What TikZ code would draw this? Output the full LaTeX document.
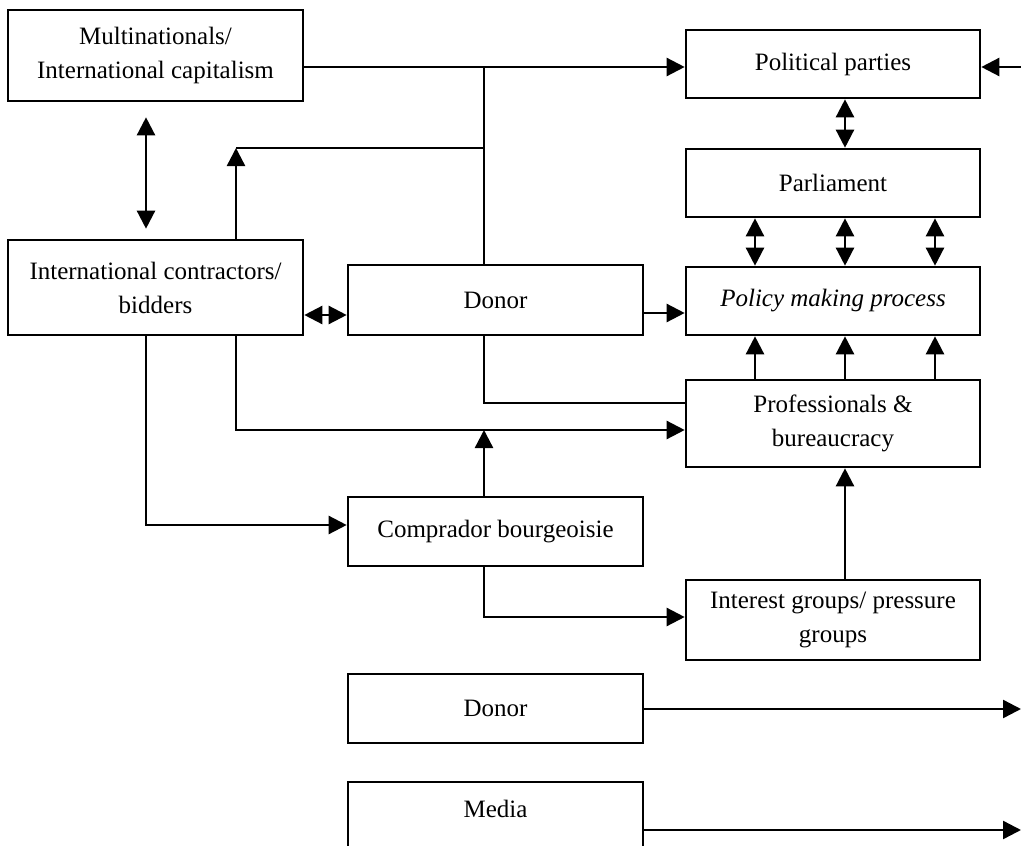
\documentclass[tikz,border=0pt]{standalone}
\usepackage{fontspec}
\setmainfont{Liberation Serif}
\usetikzlibrary{arrows.meta}
\begin{document}
\begin{tikzpicture}[x=1pt,y=-1pt,
  box/.style={draw, line width=2.6pt, minimum width=295pt, inner sep=0pt, align=center,
    font=\fontsize{25}{34}\selectfont},
  conn/.style={line width=2.4pt},
  arr/.style={conn, -{Triangle[length=18pt,width=18pt]}},
  darr/.style={conn, {Triangle[length=18pt,width=18pt]}-{Triangle[length=18pt,width=18pt]}}]
\useasboundingbox (0,0) rectangle (1021,846);
\clip (0,0) rectangle (1021,846);
% boxes
\node[box, minimum height=91pt] (multi) at (155.5,55.5) {Multinationals/\\International capitalism};
\node[box, minimum height=95pt] (intl) at (155.5,287.5) {International contractors/\\bidders};
\node[box, minimum height=68pt, minimum width=294pt] (pp) at (833,64) {Political parties};
\node[box, minimum height=68pt, minimum width=294pt] (parl) at (833,183) {Parliament};
\node[box, minimum height=68pt, minimum width=294pt, font=\fontsize{25}{34}\selectfont\itshape] (policy) at (833,301) {Policy making process};
\node[box, minimum height=87pt, minimum width=294pt] (prof) at (833,423.5) {Professionals \&\\bureaucracy};
\node[box, minimum height=80pt, minimum width=294pt] (interest) at (833,620) {Interest groups/ pressure\\groups};
\node[box, minimum height=70pt] (donor1) at (495.5,300) {Donor};
\node[box, minimum height=69pt] (compr) at (495.5,531.5) {Comprador bourgeoisie};
\node[box, minimum height=69pt] (donor2) at (495.5,708.5) {Donor};
\node[box, minimum height=76pt, text depth=22pt] (media) at (495.5,820) {Media};
% coordinates
\coordinate (jtop) at (484,67);
\coordinate (ppin) at (1021,67);
\coordinate (jmid) at (484,148);
\coordinate (jcorner) at (236,148);
\coordinate (dout) at (1021,709);
\coordinate (mout) at (1021,830);
% connectors
\draw[arr] (multi.east |- jtop) -- (pp.west |- jtop);
\draw[arr] (ppin) -- (pp.east |- ppin);
\draw[conn] (jtop) -- (donor1.north -| jtop);
\draw[conn] (jmid) -- (jcorner);
\draw[arr] (intl.north -| jcorner) -- (jcorner);
\draw[darr, shorten <=15pt, shorten >=10pt] (multi.south -| 146,0) -- (intl.north -| 146,0);
\draw[darr] (intl.east |- 0,315) -- (donor1.west |- 0,315);
\draw[arr] (donor1.east |- 0,313) -- (policy.west |- 0,313);
\draw[darr] (pp.south -| 845,0) -- (parl.north -| 845,0);
\foreach \xx in {755,845,935}{
  \draw[darr] (parl.south -| \xx,0) -- (policy.north -| \xx,0);
  \draw[arr] (prof.north -| \xx,0) -- (policy.south -| \xx,0);
}
\draw[conn] (donor1.south -| jtop) |- (prof.west |- 0,403);
\draw[arr] (intl.south -| jcorner) |- (prof.west |- 0,430);
\draw[arr] (compr.north -| jtop) -- (jtop |- 0,430);
\draw[arr] (intl.south -| 146,0) |- (compr.west |- 0,525);
\draw[arr] (compr.south -| jtop) |- (interest.west |- 0,617);
\draw[arr] (interest.north -| 845,0) -- (prof.south -| 845,0);
\draw[arr] (donor2.east |- dout) -- (dout);
\draw[arr] (media.east |- mout) -- (mout);
\end{tikzpicture}
\end{document}
